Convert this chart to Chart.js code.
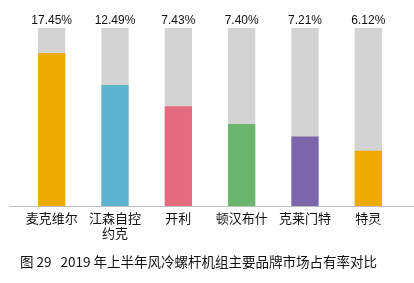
<!DOCTYPE html>
<html>
<head>
<meta charset="utf-8">
<script src="https://cdn.jsdelivr.net/npm/chart.js@4/dist/chart.umd.min.js"></script>
<style>
  html, body { margin: 0; padding: 0; background: #fff; }
  #wrap { width: 414px; height: 283px; }
</style>
</head>
<body>
<div id="wrap"><canvas id="shareChart"></canvas></div>
<script>
// Brands (x axis categories)
const categories = [['麦克维尔'], ['江森自控', '约克'], '开利', '顿汉布什', '克莱门特', '特灵'];

// Market share printed above each bar (%)
const shares = [17.45, 12.49, 7.43, 7.40, 7.21, 6.12];

// Filled height of each bar, as % of the grey track
const fillLevels = [86, 68, 56, 46, 39, 31];

// Grey background track
const trackLevels = [100, 100, 100, 100, 100, 100];

const barColors = ['#F0AB00', '#5BB5CF', '#E46A7E', '#6AB56E', '#7B66AC', '#F0AB00'];

// Draw the percentage text above each track
const shareLabelPlugin = {
  id: 'shareLabels',
  afterDatasetsDraw(chart) {
    const ctx = chart.ctx;
    const trackMeta = chart.getDatasetMeta(1);
    ctx.save();
    ctx.font = '12px "Liberation Sans", Arial, sans-serif';
    ctx.fillStyle = '#111';
    ctx.textAlign = 'center';
    ctx.textBaseline = 'alphabetic';
    trackMeta.data.forEach((bar, i) => {
      ctx.fillText(shares[i].toFixed(2) + '%', bar.x, bar.y - 4);
    });
    ctx.restore();
  }
};

// Base line running across the whole width
const baseLinePlugin = {
  id: 'baseLine',
  beforeDatasetsDraw(chart) {
    const ctx = chart.ctx;
    const y = Math.round(chart.chartArea.bottom) + 0.5;
    ctx.save();
    ctx.strokeStyle = '#BFBFBF';
    ctx.lineWidth = 1;
    ctx.beginPath();
    ctx.moveTo(9, y);
    ctx.lineTo(chart.width, y);
    ctx.stroke();
    ctx.restore();
  }
};

const ctx = document.getElementById('shareChart').getContext('2d');
const shareChart = new Chart(ctx, {
  type: 'bar',
  data: {
    labels: categories,
    datasets: [
      {
        label: '市场占有率',
        data: fillLevels,
        backgroundColor: barColors,
        barPercentage: 0.43,
        categoryPercentage: 1,
        grouped: false
      },
      {
        label: 'track',
        data: trackLevels,
        backgroundColor: '#D3D3D3',
        barPercentage: 0.43,
        categoryPercentage: 1,
        grouped: false
      }
    ]
  },
  options: {
    responsive: true,
    maintainAspectRatio: false,
    animation: false,
    layout: {
      padding: { top: 28, left: 20, right: 14, bottom: 0 }
    },
    plugins: {
      legend: { display: false },
      tooltip: { enabled: false },
      title: {
        display: true,
        position: 'bottom',
        align: 'start',
        text: '图 29   2019 年上半年风冷螺杆机组主要品牌市场占有率对比',
        color: '#111',
        font: { family: '"Noto Sans CJK SC", sans-serif', size: 13.5, weight: 'normal', lineHeight: 1.2 },
        padding: { top: 8, bottom: 13 }
      }
    },
    scales: {
      x: {
        grid: { display: false, drawTicks: false },
        border: { display: false },
        ticks: {
          color: '#111',
          padding: 5,
          maxRotation: 0,
          autoSkip: false,
          font: { family: '"Noto Sans CJK SC", sans-serif', size: 13, lineHeight: 1.15 }
        }
      },
      y: {
        display: false,
        min: 0,
        max: 100
      }
    }
  },
  plugins: [shareLabelPlugin, baseLinePlugin]
});
</script>
</body>
</html>
